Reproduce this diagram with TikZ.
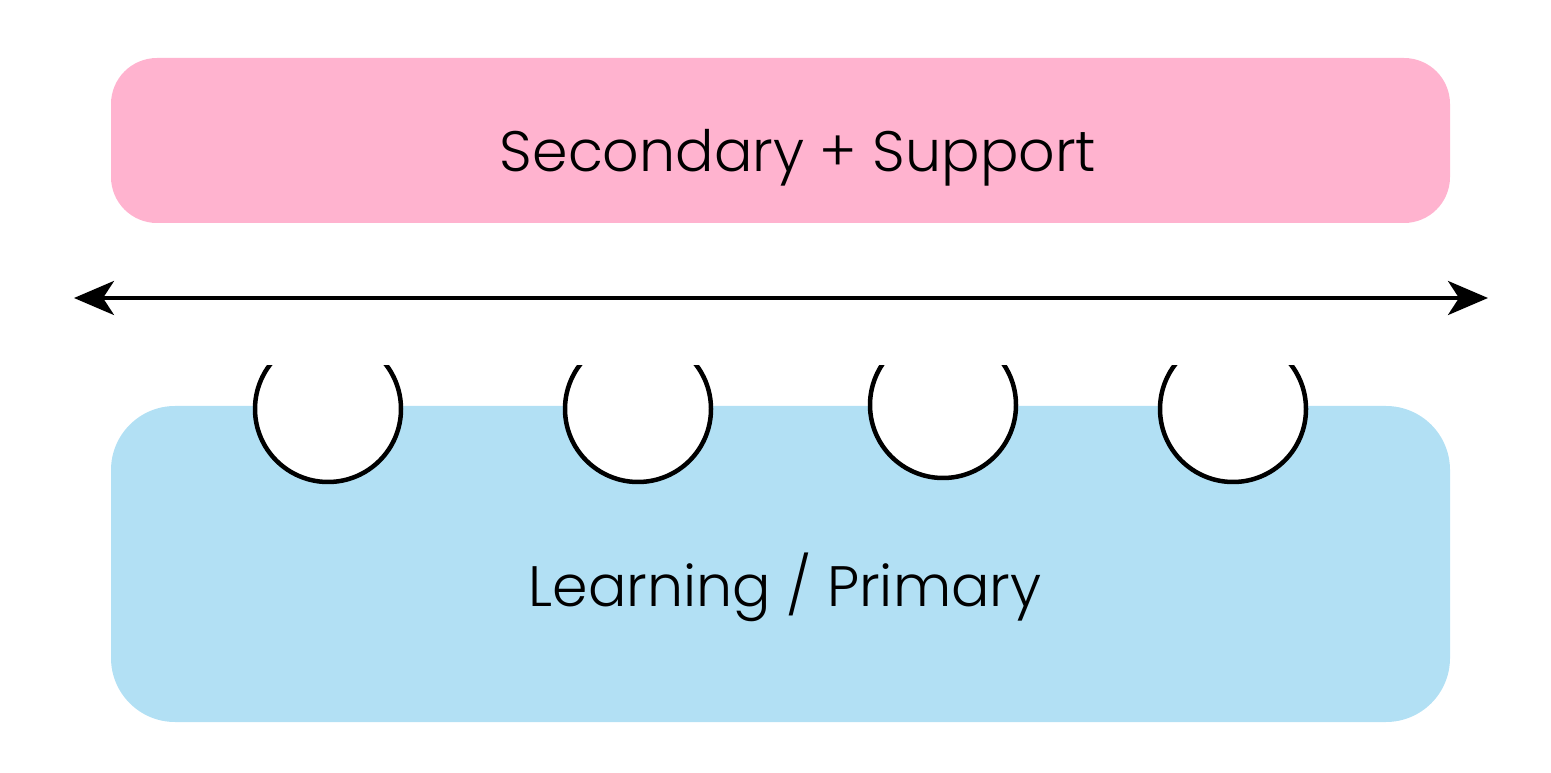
\documentclass[tikz,border=0pt]{standalone}
\usepackage{fontspec}
\setmainfont{Poppins}[UprightFont=* Light]
\usetikzlibrary{arrows.meta,positioning}
\definecolor{Pink}{HTML}{FFB3CF}
\definecolor{Sky}{HTML}{B2E0F4}
\begin{document}
\begin{tikzpicture}[x=1pt,y=1pt,
        band/.style={draw=none,minimum width=1339pt,inner sep=0pt},
        lbl/.style={font=\fontsize{57}{66}\selectfont,text=black,anchor=base},
        cup/.style={circle,draw=black,fill=white,line width=4.5pt,minimum size=146pt,inner sep=0pt},
        a/.style={{Stealth[length=40pt,width=34pt,inset=11pt]}-{Stealth[length=40pt,width=34pt,inset=11pt]},line width=3.8pt}]
        \useasboundingbox (0,0) rectangle (1551,772);
        \node[band,fill=Pink,minimum height=165pt,rounded corners=46pt] (sec) at (780.5,631.5) {};
        \node[band,fill=Sky,minimum height=316pt,rounded corners=64pt] (prim) at (780.5,208) {};
        \node[lbl] (tsec) at (798,600) {Secondary + Support};
        \node[lbl] (tprim) at (785,165) {Learning / Primary};
        \coordinate (l) at (74,474);
        \coordinate (r) at (1488,474);
        \draw[a] (l)--(r);
        % open cups on top edge
        \begin{scope}
          \clip (0,0) rectangle (1551,406);
          \node[cup] (c1) at (328,363) {};
          \node[cup] (c2) at (638,363) {};
          \node[cup] (c3) at (943,367) {};
          \node[cup] (c4) at (1233,363) {};
        \end{scope}
      \end{tikzpicture}
\end{document}
